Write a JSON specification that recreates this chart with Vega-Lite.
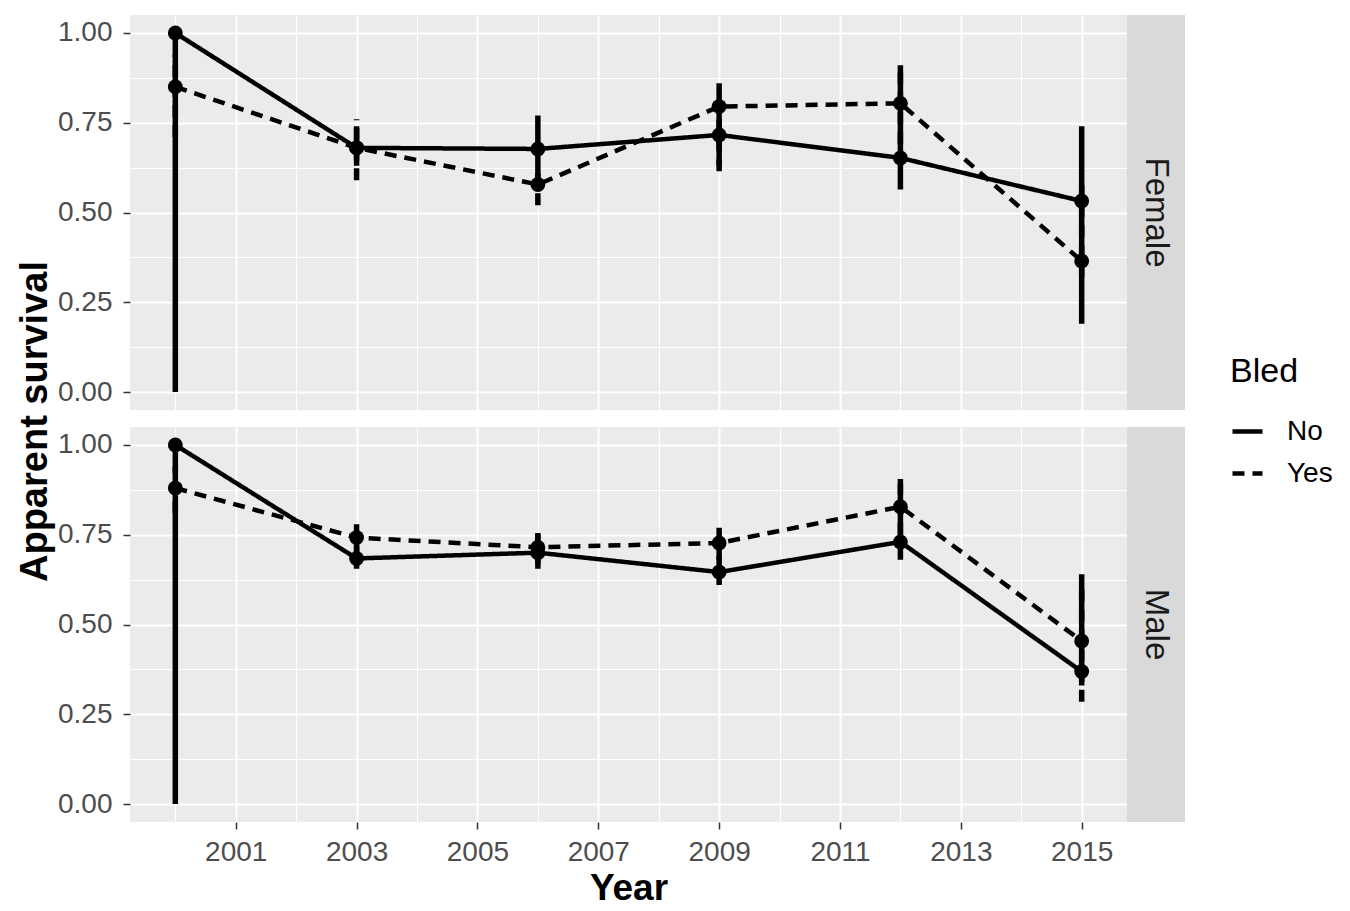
{
  "$schema": "https://vega.github.io/schema/vega-lite/v6.json",
  "background": "white",
  "padding": {"left": 16, "top": 15, "right": 5, "bottom": 3},
  "title": {"text": "Apparent survival", "orient": "left", "anchor": "middle", "fontSize": 38, "fontWeight": "bold", "color": "black", "font": "Liberation Sans", "offset": 3, "dx": 39},
  "config": {
    "font": "Liberation Sans",
    "view": {"stroke": null},
    "axis": {"domain": false, "gridColor": "#ffffff", "labelColor": "#4d4d4d", "labelFont": "Liberation Sans", "labelFontSize": 28, "tickSize": 7, "tickWidth": 1.5, "labelPadding": 11, "titleFont": "Liberation Sans", "titleFontSize": 37, "titleFontWeight": "bold", "titleColor": "black"},
    "legend": {"labelFont": "Liberation Sans", "titleFont": "Liberation Sans"}
  },
  "data": {"values": [
    {"sex": "Female", "Bled": "No", "year": 2000, "est": 1.0, "lo": 0.0, "hi": 1.0},
    {"sex": "Female", "Bled": "Yes", "year": 2000, "est": 0.85, "lo": 0.71, "hi": 0.94},
    {"sex": "Female", "Bled": "No", "year": 2003, "est": 0.68, "lo": 0.63, "hi": 0.74},
    {"sex": "Female", "Bled": "Yes", "year": 2003, "est": 0.68, "lo": 0.59, "hi": 0.76},
    {"sex": "Female", "Bled": "No", "year": 2006, "est": 0.677, "lo": 0.58, "hi": 0.77},
    {"sex": "Female", "Bled": "Yes", "year": 2006, "est": 0.578, "lo": 0.52, "hi": 0.63},
    {"sex": "Female", "Bled": "No", "year": 2009, "est": 0.716, "lo": 0.63, "hi": 0.84},
    {"sex": "Female", "Bled": "Yes", "year": 2009, "est": 0.795, "lo": 0.615, "hi": 0.86},
    {"sex": "Female", "Bled": "No", "year": 2012, "est": 0.652, "lo": 0.564, "hi": 0.91},
    {"sex": "Female", "Bled": "Yes", "year": 2012, "est": 0.804, "lo": 0.69, "hi": 0.89},
    {"sex": "Female", "Bled": "No", "year": 2015, "est": 0.532, "lo": 0.19, "hi": 0.74},
    {"sex": "Female", "Bled": "Yes", "year": 2015, "est": 0.365, "lo": 0.32, "hi": 0.59},
    {"sex": "Male", "Bled": "No", "year": 2000, "est": 1.0, "lo": 0.0, "hi": 1.0},
    {"sex": "Male", "Bled": "Yes", "year": 2000, "est": 0.88, "lo": 0.81, "hi": 0.94},
    {"sex": "Male", "Bled": "No", "year": 2003, "est": 0.684, "lo": 0.655, "hi": 0.72},
    {"sex": "Male", "Bled": "Yes", "year": 2003, "est": 0.742, "lo": 0.69, "hi": 0.8},
    {"sex": "Male", "Bled": "No", "year": 2006, "est": 0.7, "lo": 0.655, "hi": 0.75},
    {"sex": "Male", "Bled": "Yes", "year": 2006, "est": 0.715, "lo": 0.67, "hi": 0.755},
    {"sex": "Male", "Bled": "No", "year": 2009, "est": 0.646, "lo": 0.61, "hi": 0.69},
    {"sex": "Male", "Bled": "Yes", "year": 2009, "est": 0.727, "lo": 0.68, "hi": 0.775},
    {"sex": "Male", "Bled": "No", "year": 2012, "est": 0.73, "lo": 0.68, "hi": 0.905},
    {"sex": "Male", "Bled": "Yes", "year": 2012, "est": 0.828, "lo": 0.75, "hi": 0.89},
    {"sex": "Male", "Bled": "No", "year": 2015, "est": 0.369, "lo": 0.33, "hi": 0.64},
    {"sex": "Male", "Bled": "Yes", "year": 2015, "est": 0.454, "lo": 0.285, "hi": 0.6}
  ]},
  "resolve": {"scale": {"strokeDash": "shared"}, "legend": {"strokeDash": "shared"}},
  "spacing": 17,
  "vconcat": [
    {
      "spacing": 0,
      "resolve": {"scale": {"strokeDash": "shared"}, "legend": {"strokeDash": "shared"}},
      "hconcat": [
        {
          "width": 997, "height": 395,
          "view": {"fill": "#ebebeb", "stroke": null},
          "transform": [{"filter": "datum.sex == 'Female'"}],
          "encoding": {
            "x": {"field": "year", "type": "quantitative", "title": null,
              "scale": {"domain": [1999.25, 2015.75], "nice": false, "zero": false},
              "axis": {"values": [2000,2001,2002,2003,2004,2005,2006,2007,2008,2009,2010,2011,2012,2013,2014,2015], "labels": false, "ticks": false, "title": null,
                "gridWidth": {"condition": {"test": "datum.value % 2 == 0", "value": 1}, "value": 2}}}
          },
          "layer": [
            {"mark": {"type": "rule", "strokeWidth": 5.5, "color": "black"},
             "encoding": {
               "y": {"field": "lo", "type": "quantitative", "title": null,
                 "scale": {"domain": [-0.05, 1.05], "nice": false, "zero": false},
                 "axis": {"values": [0,0.125,0.25,0.375,0.5,0.625,0.75,0.875,1], "title": null,
                   "labelExpr": "datum.value % 0.25 == 0 ? format(datum.value, '.2f') : ''",
                   "tickColor": {"condition": {"test": "datum.value % 0.25 != 0", "value": "transparent"}, "value": "#333333"},
                   "gridWidth": {"condition": {"test": "datum.value % 0.25 != 0", "value": 1}, "value": 2}}},
               "y2": {"field": "hi"},
               "strokeDash": {"field": "Bled", "type": "nominal", "scale": {"domain": ["No", "Yes"], "range": [[1, 0], [12, 8]]},
                 "legend": {"title": "Bled", "orient": "none", "legendX": 1100, "legendY": 340, "symbolType": "stroke", "symbolSize": 900, "symbolStrokeWidth": 4.5, "symbolStrokeColor": "black", "labelFontSize": 28, "labelColor": "black", "titleFontSize": 34, "titleFontWeight": "normal", "titleColor": "black", "rowPadding": 10, "titlePadding": 25, "labelOffset": 22}}
             }},
            {"mark": {"type": "line", "strokeWidth": 4.5, "color": "black"},
             "encoding": {
               "y": {"field": "est", "type": "quantitative", "title": null},
               "strokeDash": {"field": "Bled", "type": "nominal"}
             }},
            {"mark": {"type": "point", "filled": true, "size": 220, "color": "black", "opacity": 1},
             "encoding": {
               "y": {"field": "est", "type": "quantitative", "title": null}
             }}
          ]
        },
        {
          "width": 58, "height": 395,
          "view": {"fill": "#d9d9d9", "stroke": null},
          "data": {"values": [{"label": "Female"}]},
          "mark": {"type": "text", "angle": 90, "fontSize": 33, "color": "#1a1a1a", "font": "Liberation Sans", "align": "center", "baseline": "middle"},
          "encoding": {"text": {"field": "label"}}
        }
      ]
    },
    {
      "spacing": 0,
      "resolve": {"scale": {"strokeDash": "shared"}, "legend": {"strokeDash": "shared"}},
      "hconcat": [
        {
          "width": 997, "height": 395,
          "view": {"fill": "#ebebeb", "stroke": null},
          "transform": [{"filter": "datum.sex == 'Male'"}],
          "encoding": {
            "x": {"field": "year", "type": "quantitative", "title": "Year",
              "scale": {"domain": [1999.25, 2015.75], "nice": false, "zero": false},
              "axis": {"values": [2000,2001,2002,2003,2004,2005,2006,2007,2008,2009,2010,2011,2012,2013,2014,2015], "title": "Year", "format": "d", "titlePadding": 4, "labelPadding": 9,
                "labelExpr": "datum.value % 2 == 1 ? datum.label : ''",
                "tickColor": {"condition": {"test": "datum.value % 2 == 0", "value": "transparent"}, "value": "#333333"},
                "gridWidth": {"condition": {"test": "datum.value % 2 == 0", "value": 1}, "value": 2}}}
          },
          "layer": [
            {"mark": {"type": "rule", "strokeWidth": 5.5, "color": "black"},
             "encoding": {
               "y": {"field": "lo", "type": "quantitative", "title": null,
                 "scale": {"domain": [-0.05, 1.05], "nice": false, "zero": false},
                 "axis": {"values": [0,0.125,0.25,0.375,0.5,0.625,0.75,0.875,1], "title": null,
                   "labelExpr": "datum.value % 0.25 == 0 ? format(datum.value, '.2f') : ''",
                   "tickColor": {"condition": {"test": "datum.value % 0.25 != 0", "value": "transparent"}, "value": "#333333"},
                   "gridWidth": {"condition": {"test": "datum.value % 0.25 != 0", "value": 1}, "value": 2}}},
               "y2": {"field": "hi"},
               "strokeDash": {"field": "Bled", "type": "nominal", "scale": {"domain": ["No", "Yes"], "range": [[1, 0], [12, 8]]}}
             }},
            {"mark": {"type": "line", "strokeWidth": 4.5, "color": "black"},
             "encoding": {
               "y": {"field": "est", "type": "quantitative", "title": null},
               "strokeDash": {"field": "Bled", "type": "nominal"}
             }},
            {"mark": {"type": "point", "filled": true, "size": 220, "color": "black", "opacity": 1},
             "encoding": {
               "y": {"field": "est", "type": "quantitative", "title": null}
             }}
          ]
        },
        {
          "width": 58, "height": 395,
          "view": {"fill": "#d9d9d9", "stroke": null},
          "data": {"values": [{"label": "Male"}]},
          "mark": {"type": "text", "angle": 90, "fontSize": 33, "color": "#1a1a1a", "font": "Liberation Sans", "align": "center", "baseline": "middle"},
          "encoding": {"text": {"field": "label"}}
        }
      ]
    }
  ]
}
